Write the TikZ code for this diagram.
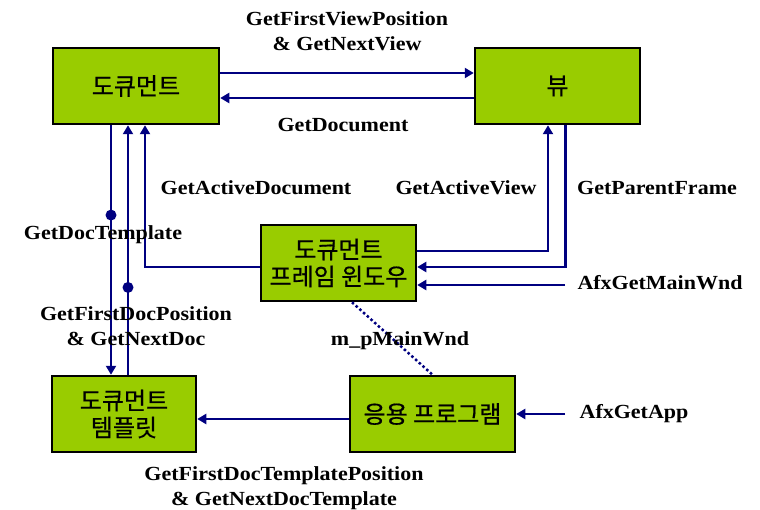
\documentclass[tikz,border=0pt]{standalone}
\usepackage{fontspec}
\setmainfont{Liberation Serif}[FakeStretch=1.1]
\newfontfamily\kor{Noto Sans CJK KR}[FakeBold=0.6]
\usetikzlibrary{arrows.meta}
\definecolor{boxgreen}{HTML}{99CC00}
\definecolor{navyline}{HTML}{000080}

\begin{document}
\begin{tikzpicture}[x=1pt,y=-1pt,
    box/.style={draw=black,line width=2.5pt,fill=boxgreen,inner sep=0pt,
        align=center,font=\kor\fontsize{24}{27}\selectfont},
    arr/.style={draw=navyline,line width=2.5pt,-{Triangle[length=9pt,width=10pt]}},
    dotline/.style={draw=navyline,line width=2.5pt,dash pattern=on 2.5pt off 2.5pt},
    dot/.style={circle,fill=navyline,inner sep=0pt,minimum size=11pt},
    lbl/.style={font=\bfseries\fontsize{20}{25}\selectfont,align=center,inner sep=1pt}]
    \useasboundingbox (0,0) rectangle (760,510);
    % boxes
    \node[box,minimum width=166,minimum height=76] (doc) at (136,86) {도큐먼트};
    \node[box,minimum width=165,minimum height=76] (view) at (557.5,86) {뷰};
    \node[box,minimum width=155,minimum height=76] (frame) at (338.5,263) {도큐먼트\\프레임 윈도우};
    \node[box,minimum width=144,minimum height=76] (tmpl) at (124,414) {도큐먼트\\템플릿};
    \node[box,minimum width=165,minimum height=76] (app) at (432.5,414) {응용 프로그램};
    \coordinate (mwsrc) at (565,285);
    \coordinate (appsrc) at (565,414);
    % document <-> view
    \draw[arr] ([yshift=13]doc.east) -- ([yshift=13]doc.east -| view.west);
    \draw[arr] ([yshift=-12]view.west) -- ([yshift=-12]view.west -| doc.east);
    % document <-> template
    \draw[arr] ([xshift=-25]doc.south) -- node[dot,pos=0.36]{} ([xshift=-25]doc.south |- tmpl.north);
    \draw[arr] ([xshift=-8]doc.south |- tmpl.north) -- node[dot,pos=0.35]{} ([xshift=-8]doc.south);
    % frame -> document, frame <-> view
    \draw[arr] ([yshift=-4]frame.west) -| ([xshift=9]doc.south);
    \draw[arr] ([yshift=12]frame.east) -| ([xshift=-9.5]view.south);
    \draw[arr] ([xshift=8]view.south) |- ([yshift=-4]frame.east);
    \draw[arr] (mwsrc) -- (mwsrc -| frame.east);
    % application
    \draw[dotline] ([xshift=13.5]frame.south) -- (app.north);
    \draw[arr] ([yshift=-5]app.west) -- ([yshift=-5]app.west -| tmpl.east);
    \draw[arr] (appsrc) -- (app.east);
    % labels
    \node[lbl] (l1) at (347,31) {GetFirstViewPosition\\\& GetNextView};
    \node[lbl] (l2) at (343,125) {GetDocument};
    \node[lbl] (l3) at (256,188) {GetActiveDocument};
    \node[lbl] (l4) at (466,188) {GetActiveView};
    \node[lbl] (l5) at (657,188) {GetParentFrame};
    \node[lbl] (l6) at (103,235) {GetDocTemplate};
    \node[lbl] (l7) at (136,326) {GetFirstDocPosition\\\& GetNextDoc};
    \node[lbl] (l8) at (660,283) {AfxGetMainWnd};
    \node[lbl] (l9) at (400,341) {m\_pMainWnd};
    \node[lbl] (l10) at (634,414) {AfxGetApp};
    \node[lbl] (l11) at (284,488) {GetFirstDocTemplatePosition\\\& GetNextDocTemplate};
\end{tikzpicture}
\end{document}
